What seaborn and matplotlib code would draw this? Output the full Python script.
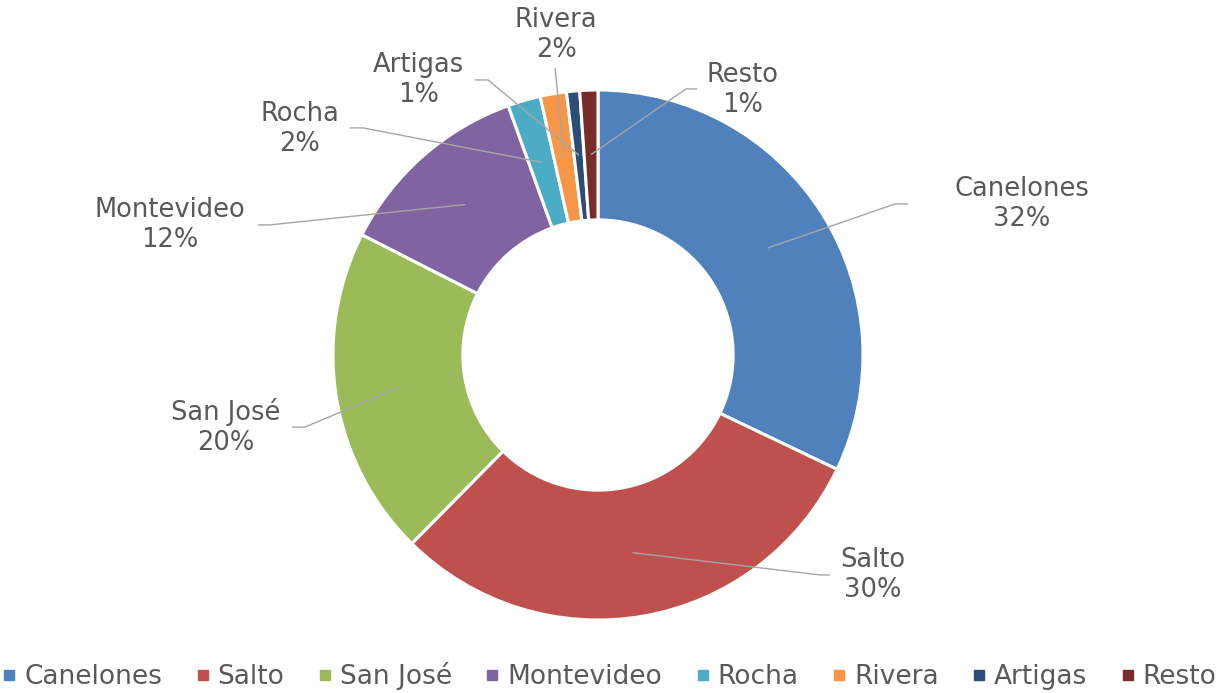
import numpy as np
import matplotlib
matplotlib.use("Agg")
import matplotlib.pyplot as plt
from matplotlib.lines import Line2D
import seaborn as sns

# datos del gráfico
departamentos = ["Canelones", "Salto", "San José", "Montevideo",
                 "Rocha", "Rivera", "Artigas", "Resto"]
porcentajes = [32.1, 30.3, 20.1, 12.0, 2.0, 1.6, 0.8, 1.1]
colores = ["#4F81BD", "#C0504D", "#9BBB59", "#8064A2",
           "#4BACC6", "#F79646", "#2C4D75", "#772C2A"]

# posiciones de etiquetas (coords de datos, radio exterior = 1)
texto_xy = [(1.600, 0.568), (1.038, -0.830), (-1.404, -0.272), (-1.615, 0.491),
            (-1.125, 0.853), (-0.158, 1.208), (-0.679, 1.038), (0.547, 1.000)]
fin_linea = [(1.170, 0.570), (0.875, -0.830), (-1.155, -0.272), (-1.283, 0.491),
             (-0.936, 0.857), (-0.162, 1.083), (-0.464, 1.038), (0.374, 1.004)]
codo = [(1.121, 0.570), (0.838, -0.830), (-1.106, -0.272), (-1.238, 0.491),
        (-0.887, 0.857), None, (-0.415, 1.038), (0.332, 1.004)]

sns.set_theme(style="white")
plt.rcParams["font.family"] = ["DejaVu Sans"]

fig = plt.figure(figsize=(12.26, 6.93), dpi=100)
ax = fig.add_axes([0, 0, 1, 1])

wedges, _ = ax.pie(porcentajes, colors=colores, startangle=90, counterclock=False,
                   radius=1, wedgeprops=dict(width=0.49, edgecolor="white", linewidth=2.2))

# el pie redefine los límites: se fijan después
ax.set_aspect("equal")
ax.set_xlim(-598 / 265, (1226 - 598) / 265)
ax.set_ylim(-(693 - 355) / 265, 355 / 265)
ax.axis("off")

gris_texto = "#595959"
gris_linea = "#A6A6A6"
for w, nombre, pct, txy, fxy, cxy in zip(wedges, departamentos, porcentajes,
                                          texto_xy, fin_linea, codo):
    ang = np.deg2rad((w.theta1 + w.theta2) / 2)
    ancla = (0.757 * np.cos(ang), 0.757 * np.sin(ang))
    pts = [ancla] + ([cxy] if cxy else []) + [fxy]
    xs, ys = zip(*pts)
    ax.plot(xs, ys, color=gris_linea, lw=1.0, solid_capstyle="butt", zorder=3)
    ax.text(txy[0], txy[1], f"{nombre}\n{pct:.0f}%", ha="center", va="center",
            fontsize=18.5, color=gris_texto, linespacing=1.2)

handles = [Line2D([0], [0], marker="s", linestyle="none", markersize=7,
                  markerfacecolor=c, markeredgecolor=c) for c in colores]
fig.legend(handles, departamentos, loc="center", bbox_to_anchor=(0.497, 1 - 676 / 693),
           ncol=8, frameon=False, fontsize=19, handlelength=0.55, handletextpad=0.3,
           columnspacing=1.25, labelcolor=gris_texto, borderaxespad=0)

plt.savefig("out.png", dpi=100)
